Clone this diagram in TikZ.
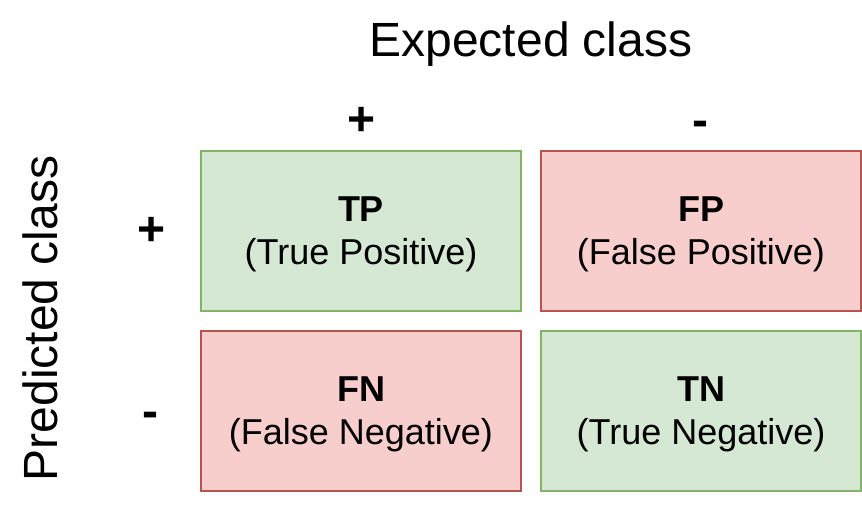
\documentclass[tikz,border=0pt]{standalone}
\usepackage{fontspec}
\setmainfont{Liberation Sans}
\begin{document}
\begin{tikzpicture}[x=1pt,y=-1pt,
  cell/.style={draw, line width=2pt, minimum width=320pt, minimum height=160pt, inner sep=0pt},
  good/.style={cell, fill={rgb,255:red,213;green,232;blue,212}, draw={rgb,255:red,130;green,179;blue,102}},
  bad/.style={cell, fill={rgb,255:red,248;green,206;blue,204}, draw={rgb,255:red,184;green,84;blue,80}},
  celltext/.style={align=center, inner sep=0pt, font=\fontsize{36}{43.2}\selectfont},
  big/.style={font=\fontsize{48}{57.6}\selectfont, inner sep=0pt},
  sign/.style={font=\fontsize{48}{57.6}\selectfont\bfseries, inner sep=0pt}]
  \useasboundingbox (0,0) rectangle (862,510);
  % axis titles
  \node[big, anchor=base] (exp) at (531,57) {Expected class};
  \node[big, anchor=base, rotate=90] (pred) at (57,318.5) {Predicted class};
  % class signs
  \node[sign] (cp) at (361.5,121) {+};
  \node[sign] (cn) at (700.5,129) {-};
  \node[sign] (rp) at (152,231) {+};
  \node[sign] (rn) at (150.5,420) {-};
  % confusion matrix cells
  \node[good] (tp) at (361,231) {};
  \node[bad]  (fp) at (701,231) {};
  \node[bad]  (fn) at (361,411) {};
  \node[good] (tn) at (701,411) {};
  % cell captions
  \node[celltext] (tpt) at ([yshift=-3pt]tp.center) {\textbf{TP}\\(True Positive)};
  \node[celltext] (fpt) at ([yshift=-3pt]fp.center) {\textbf{FP}\\(False Positive)};
  \node[celltext] (fnt) at ([yshift=-3pt]fn.center) {\textbf{FN}\\(False Negative)};
  \node[celltext] (tnt) at ([yshift=-3pt]tn.center) {\textbf{TN}\\(True Negative)};
\end{tikzpicture}
\end{document}
